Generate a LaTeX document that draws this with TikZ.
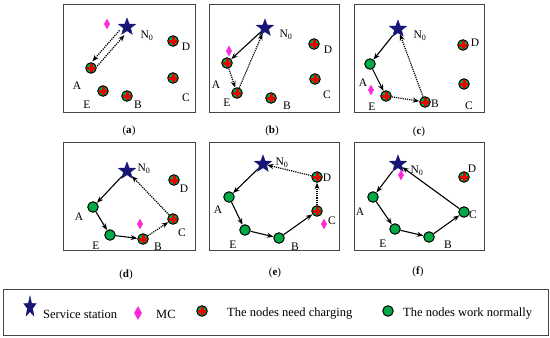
\documentclass[tikz,border=0pt]{standalone}
\usepackage{fontspec}
\setmainfont{Liberation Serif}
\usetikzlibrary{shapes.geometric,arrows.meta}
\definecolor{navystar}{RGB}{22,22,118}
\definecolor{mcmag}{RGB}{255,40,220}
\definecolor{ngreen}{RGB}{0,170,70}
\definecolor{nred}{RGB}{240,0,0}
\definecolor{framec}{RGB}{70,70,70}
\begin{document}
\begin{tikzpicture}[x=1pt,y=-1pt,
 panel/.style={draw=framec,line width=0.9pt},
 station/.style={star,star points=5,star point ratio=2.4,fill=navystar,draw=navystar,inner sep=0pt,minimum size=18pt},
 mc/.style={diamond,fill=mcmag,inner sep=0pt,minimum width=6pt,minimum height=11pt},
 okn/.style={circle,fill=ngreen,draw=black,line width=1pt,inner sep=0pt,minimum size=10.5pt},
 chg/.style={okn,path picture={\draw[nred,line width=3pt]
   ([xshift=-4pt]path picture bounding box.center) -- ([xshift=4pt]path picture bounding box.center)
   ([yshift=-4pt]path picture bounding box.center) -- ([yshift=4pt]path picture bounding box.center);}},
 lbl/.style={font=\fontsize{11.5}{13}\selectfont,inner sep=0pt},
 capt/.style={font=\fontsize{11}{13}\selectfont,inner sep=0pt},
 legtxt/.style={font=\fontsize{12.5}{14}\selectfont,inner sep=0pt,anchor=west},
 solidarr/.style={line width=1.1pt,-{Stealth[length=6.5pt,width=5pt]}},
 dotarr/.style={line width=1.2pt,densely dotted,-{Stealth[length=6.5pt,width=5pt]}},
]
\useasboundingbox (0,0) rectangle (550,338);

% ---------- panel (a)
\draw[panel] (63,4) rectangle (195,112);
\node[station] (aS) at (127,27) {};
\node[mc] (aM) at (107,24) {};
\node[lbl] (aN) at (147,36) {N\textsubscript{0}};
\node[chg] (aA) at (91,68) {};
\node[chg] (aE) at (103,91) {};
\node[chg] (aB) at (127,96) {};
\node[chg] (aD) at (173,41) {};
\node[chg] (aC) at (173,78) {};
\node[lbl] (aLA) at (77,86) {A};
\node[lbl] (aLE) at (87,105) {E};
\node[lbl] (aLB) at (138,105) {B};
\node[lbl] (aLD) at (186,47) {D};
\node[lbl] (aLC) at (186,98) {C};
\draw[dotarr,transform canvas={xshift=-2.4pt,yshift=2.4pt}] (aS) -- (aA);
\draw[dotarr,transform canvas={xshift=2.4pt,yshift=-2.4pt}] (aA) -- (aS);
\node[capt] (capa) at (129,131) {(\textbf{a})};

% ---------- panel (b)
\draw[panel] (209,4) rectangle (339,112);
\node[station] (bS) at (265,28) {};
\node[lbl] (bN) at (286,35) {N\textsubscript{0}};
\node[mc] (bM) at (229,51) {};
\node[chg] (bA) at (227,63) {};
\node[chg] (bE) at (237,93) {};
\node[chg] (bB) at (271,98) {};
\node[chg] (bD) at (314,44) {};
\node[chg] (bC) at (315,79) {};
\node[lbl] (bLA) at (216,85) {A};
\node[lbl] (bLE) at (227,103) {E};
\node[lbl] (bLB) at (287,106) {B};
\node[lbl] (bLD) at (328,50) {D};
\node[lbl] (bLC) at (327,95) {C};
\draw[solidarr] (bS) -- (bA);
\draw[dotarr] (bA) -- (bE);
\draw[dotarr] (bE) -- (bS);
\node[capt] (capb) at (272,131) {(\textbf{b})};

% ---------- panel (c)
\draw[panel] (354,4) rectangle (484,112);
\node[station] (cS) at (398,29) {};
\node[lbl] (cN) at (420,36) {N\textsubscript{0}};
\node[okn] (cA) at (370,64) {};
\node[mc] (cM) at (371,90) {};
\node[chg] (cE) at (386,96) {};
\node[chg] (cB) at (425,102) {};
\node[chg] (cD) at (463,45) {};
\node[chg] (cC) at (464,84) {};
\node[lbl] (cLA) at (363,83) {A};
\node[lbl] (cLE) at (372,107) {E};
\node[lbl] (cLB) at (435,104) {B};
\node[lbl] (cLD) at (475,43) {D};
\node[lbl] (cLC) at (469,106) {C};
\draw[solidarr] (cS) -- (cA);
\draw[solidarr] (cA) -- (cE);
\draw[dotarr] (cE) -- (cB);
\draw[dotarr] (cB) -- (cS);
\node[capt] (capc) at (419,132) {(\textbf{c})};

% ---------- panel (d)
\draw[panel] (63,142) rectangle (195,250);
\node[station] (dS) at (127,171) {};
\node[lbl] (dN) at (144,169) {N\textsubscript{0}};
\node[chg] (dD) at (174,180) {};
\node[okn] (dA) at (93,207) {};
\node[mc] (dM) at (140,224) {};
\node[chg] (dC) at (173,219) {};
\node[okn] (dE) at (110,235) {};
\node[chg] (dB) at (143,239) {};
\node[lbl] (dLD) at (184,189) {D};
\node[lbl] (dLA) at (79,217) {A};
\node[lbl] (dLC) at (182,233) {C};
\node[lbl] (dLE) at (96,246) {E};
\node[lbl] (dLB) at (158,247) {B};
\draw[solidarr] (dS) -- (dA);
\draw[solidarr] (dA) -- (dE);
\draw[solidarr] (dE) -- (dB);
\draw[dotarr] (dB) -- (dC);
\draw[dotarr] (dC) -- (dS);
\node[capt] (capd) at (126,275) {(\textbf{d})};

% ---------- panel (e)
\draw[panel] (209,142) rectangle (339,250);
\node[station] (eS) at (263,164) {};
\node[lbl] (eN) at (282,163) {N\textsubscript{0}};
\node[chg] (eD) at (317,177) {};
\node[chg] (eC) at (317,211) {};
\node[mc] (eM) at (324,224) {};
\node[okn] (eA) at (229,197) {};
\node[okn] (eE) at (245,230) {};
\node[okn] (eB) at (279,238) {};
\node[lbl] (eLD) at (327,178) {D};
\node[lbl] (eLC) at (332,221) {C};
\node[lbl] (eLA) at (218,210) {A};
\node[lbl] (eLE) at (233,245) {E};
\node[lbl] (eLB) at (295,247) {B};
\draw[solidarr] (eS) -- (eA);
\draw[solidarr] (eA) -- (eE);
\draw[solidarr] (eE) -- (eB);
\draw[solidarr] (eB) -- (eC);
\draw[dotarr] (eC) -- (eD);
\draw[dotarr] (eD) -- (eS);
\node[capt] (cape) at (275,273) {(\textbf{e})};

% ---------- panel (f)
\draw[panel] (354,142) rectangle (484,250);
\node[station] (fS) at (398,164) {};
\node[mc] (fM) at (401,175) {};
\node[lbl] (fN) at (417,171) {N\textsubscript{0}};
\node[chg] (fD) at (464,177) {};
\node[okn] (fA) at (373,197) {};
\node[okn] (fC) at (464,212) {};
\node[okn] (fE) at (395,229) {};
\node[okn] (fB) at (429,237) {};
\node[lbl] (fLD) at (472,169) {D};
\node[lbl] (fLA) at (360,212) {A};
\node[lbl] (fLC) at (473,215) {C};
\node[lbl] (fLE) at (383,244) {E};
\node[lbl] (fLB) at (448,245) {B};
\draw[solidarr] (fS) -- (fA);
\draw[solidarr] (fA) -- (fE);
\draw[solidarr] (fE) -- (fB);
\draw[solidarr] (fB) -- (fC);
\draw[solidarr] (fC) -- (fS);
\node[capt] (capf) at (418,272) {(\textbf{f})};

% ---------- legend
\draw[panel] (3.5,289) rectangle (548,335);
\node[station,minimum size=22pt,xscale=0.6,transform shape] (gS) at (30,307) {};
\node[legtxt] (gST) at (43,314) {Service station};
\node[mc,minimum width=8pt,minimum height=14pt] (gM) at (138,313) {};
\node[legtxt] (gMT) at (156,314) {MC};
\node[chg] (gC) at (202,311) {};
\node[legtxt] (gCT) at (227,314) {The nodes need charging};
\node[okn] (gO) at (388,311) {};
\node[legtxt] (gOT) at (403,314) {The nodes work normally};
\end{tikzpicture}
\end{document}
